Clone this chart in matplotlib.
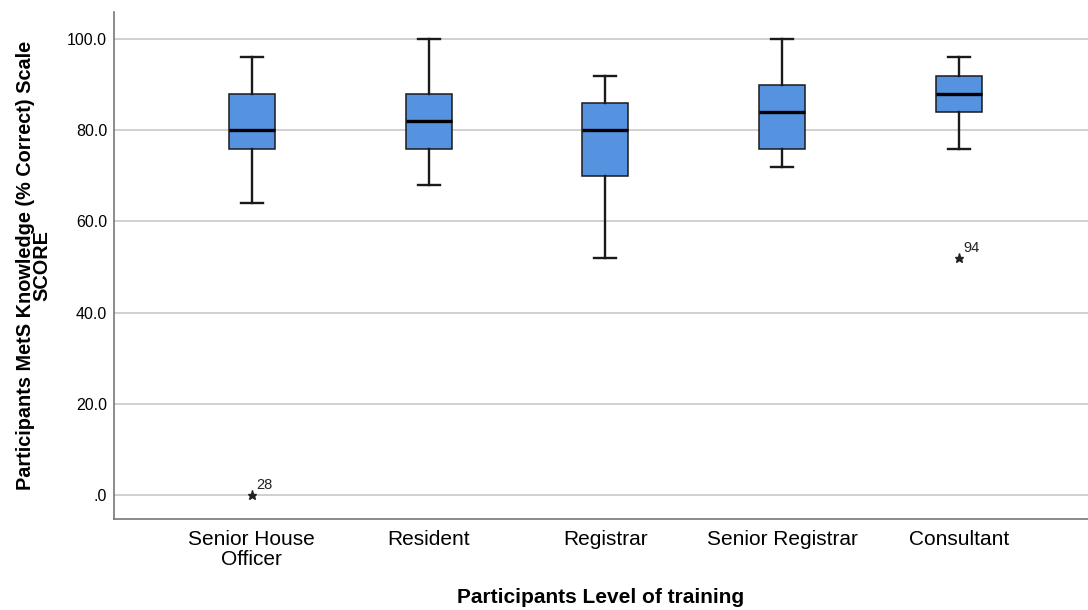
import matplotlib
matplotlib.use("Agg")
import matplotlib.pyplot as plt

plt.rcParams["font.family"] = ["Liberation Sans", "DejaVu Sans"]

# data
groups = ["Senior House\nOfficer", "Resident", "Registrar", "Senior Registrar", "Consultant"]
whisker_low = [64, 68, 52, 72, 76]
q1 = [76, 76, 70, 76, 84]
medians = [80, 82, 80, 84, 88]
q3 = [88, 88, 86, 90, 92]
whisker_high = [96, 100, 92, 100, 96]
outliers = [[0], [], [], [], [52]]
outlier_ids = [["28"], [], [], [], ["94"]]
y_ticks = [0, 20, 40, 60, 80, 100]
y_tick_labels = [".0", "20.0", "40.0", "60.0", "80.0", "100.0"]

stats = []
for i in range(len(groups)):
    stats.append({"whislo": whisker_low[i], "q1": q1[i], "med": medians[i],
                  "q3": q3[i], "whishi": whisker_high[i], "fliers": []})

fig = plt.figure(figsize=(10.88, 6.10), dpi=100)
ax = fig.add_axes([0.1048, 0.149, 0.895, 0.831])

positions = list(range(len(groups)))
ax.bxp(stats, positions=positions, widths=0.26, patch_artist=True,
       showfliers=False,
       boxprops=dict(facecolor="#5592e0", edgecolor="#1a1a1a", linewidth=1.1),
       medianprops=dict(color="black", linewidth=2.4),
       whiskerprops=dict(color="#1a1a1a", linewidth=1.7),
       capprops=dict(color="#1a1a1a", linewidth=1.7),
       capwidths=0.125, zorder=3)

for i, pts in enumerate(outliers):
    for v, lab in zip(pts, outlier_ids[i]):
        ax.plot(i, v, marker="*", color="#222222", markersize=6.5, linestyle="none", zorder=4)
        ax.annotate(lab, (i, v), xytext=(3, 4), textcoords="offset points",
                    fontsize=10.5, color="#222222")

ax.set_xlim(-0.78, 4.73)
ax.set_ylim(-5.3, 105.9)
ax.set_yticks(y_ticks)
ax.set_yticklabels(y_tick_labels, fontsize=11.5)
ax.set_xticks(positions)
ax.set_xticklabels(groups, fontsize=15, linespacing=1.05)
ax.tick_params(length=0, pad=8)
ax.tick_params(axis="y", pad=5)

ax.grid(axis="y", color="#c8c8c8", linewidth=1.2, zorder=0)
ax.set_axisbelow(True)
for side in ["top", "right"]:
    ax.spines[side].set_visible(False)
for side in ["left", "bottom"]:
    ax.spines[side].set_color("#777777")
    ax.spines[side].set_linewidth(1.2)

ax.set_xlabel("Participants Level of training", fontsize=15, fontweight="bold", labelpad=14)
ax.set_ylabel("Participants MetS Knowledge (% Correct) Scale\nSCORE", fontsize=14.3,
              fontweight="bold", linespacing=0.88, labelpad=11)

fig.savefig("out.png", dpi=100)
